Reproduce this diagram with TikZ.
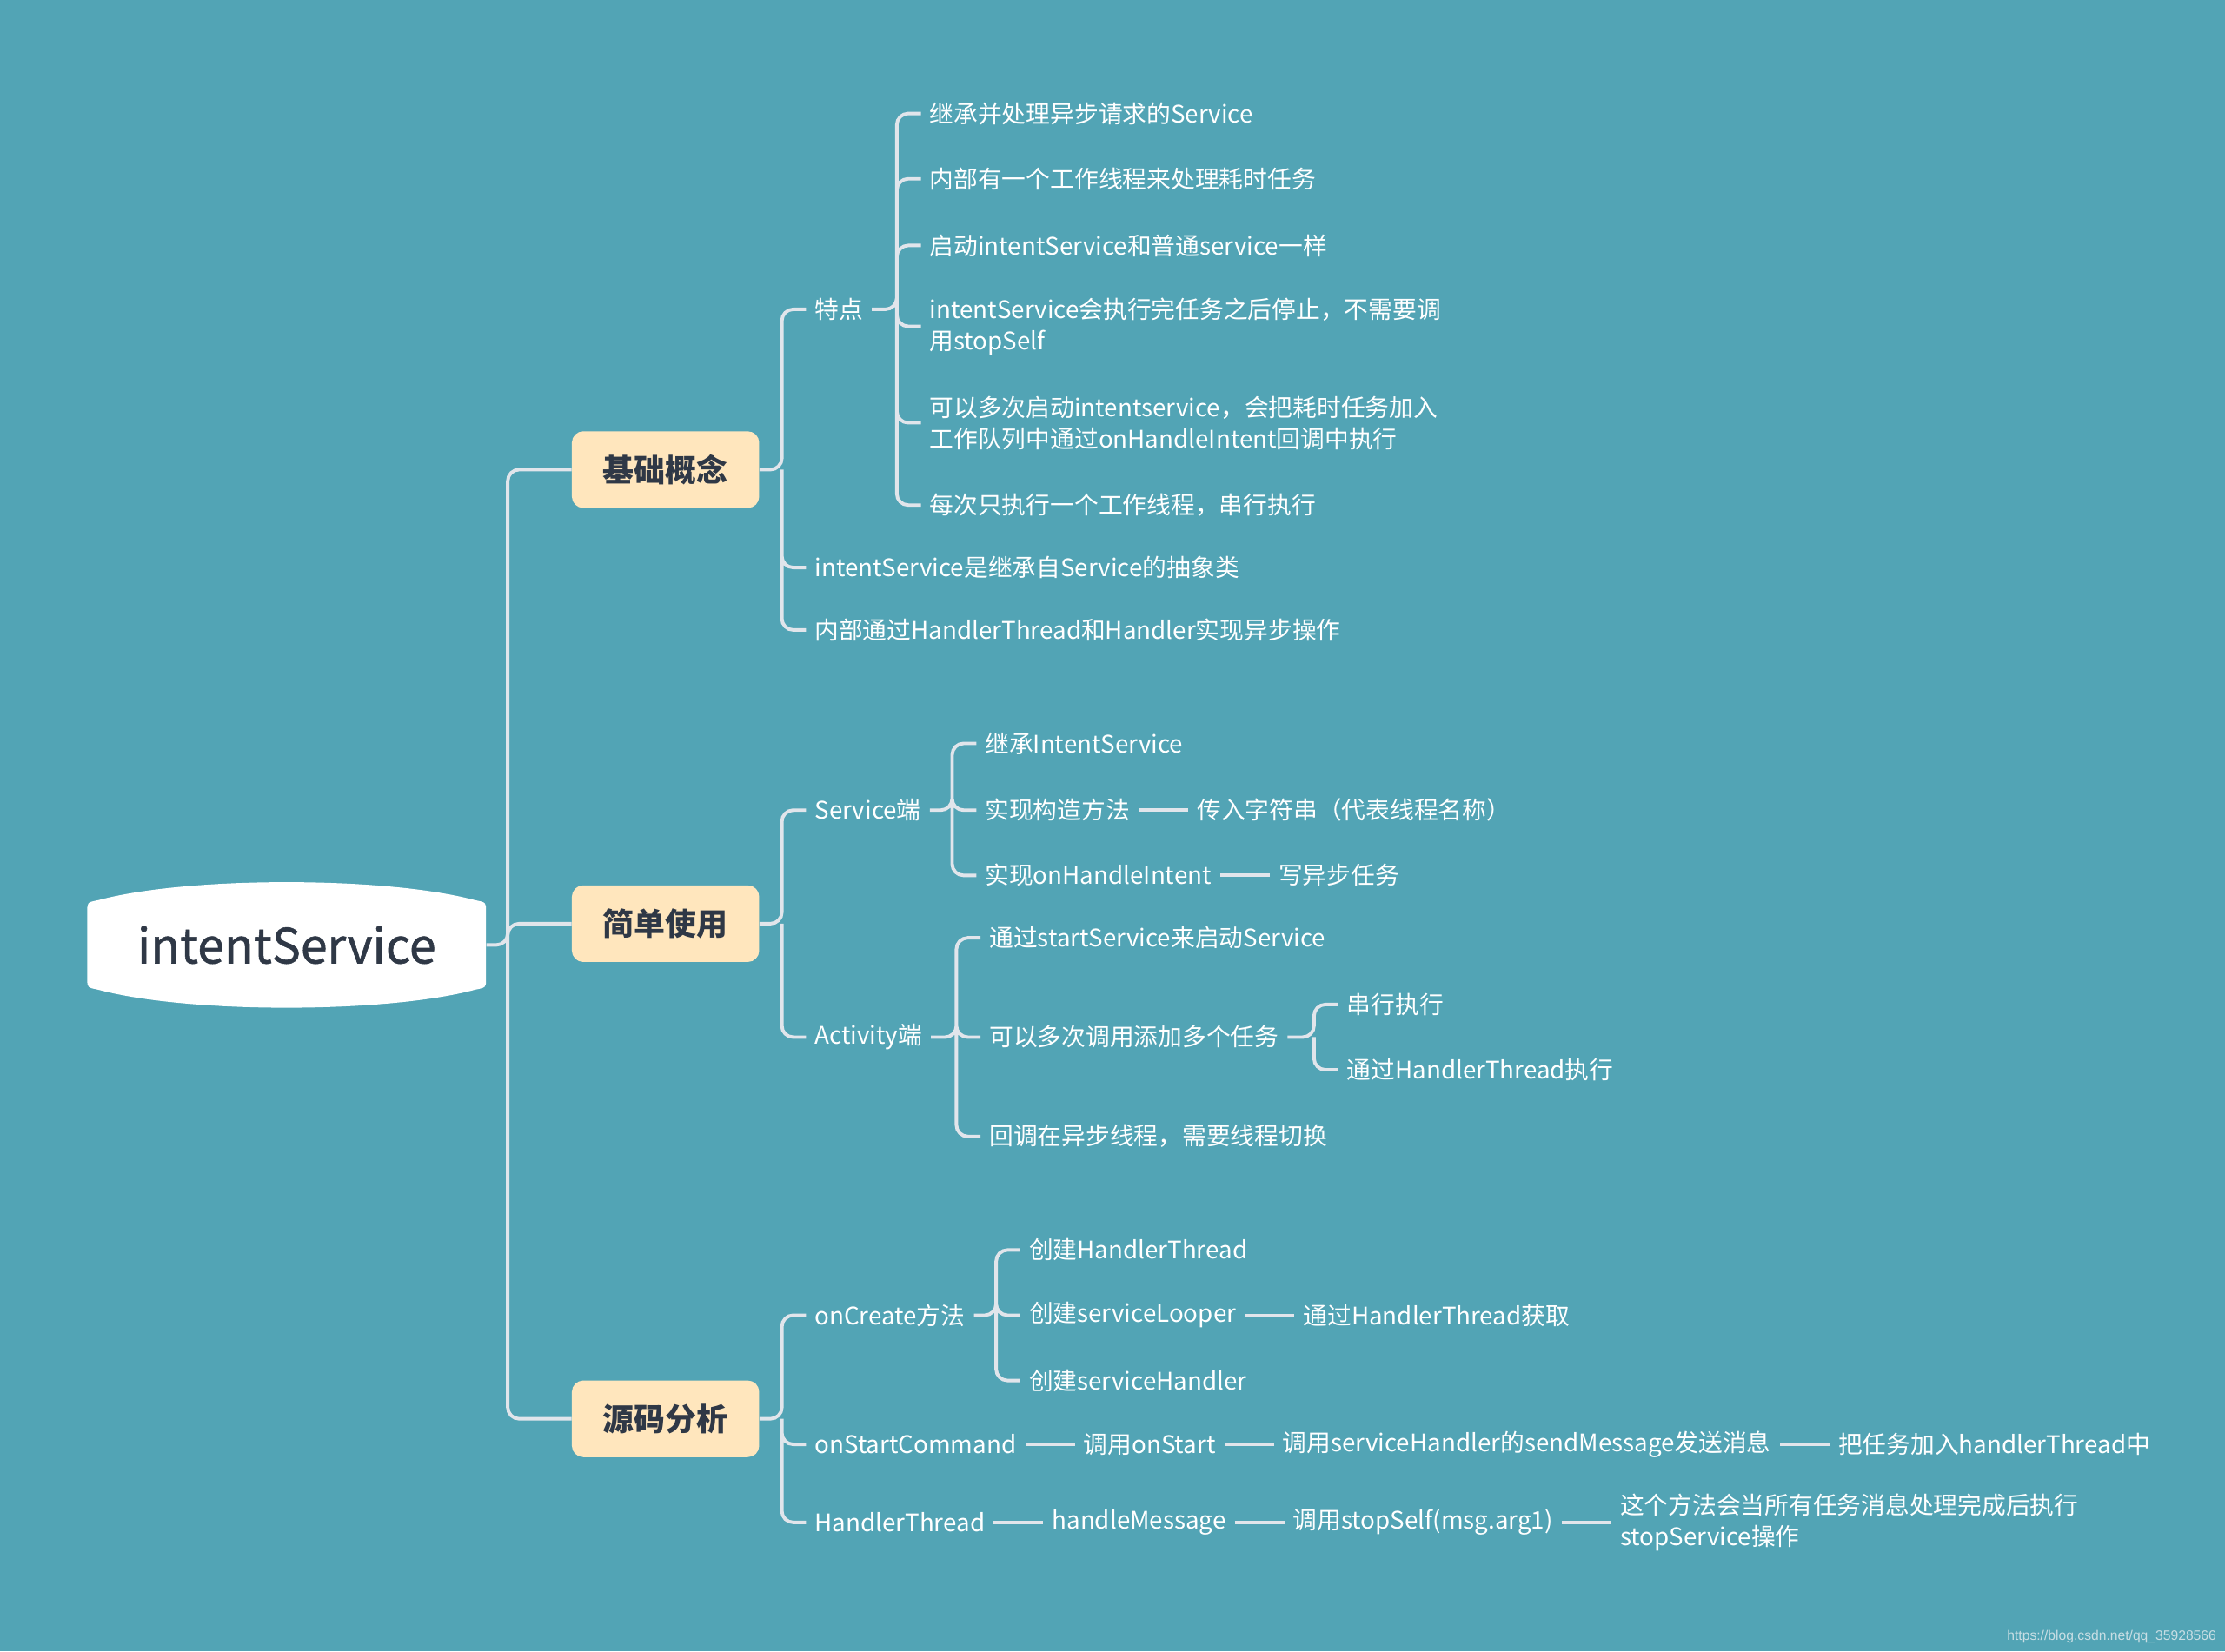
\documentclass[tikz,border=0pt]{standalone}
\usepackage{fontspec}
\setmainfont{Noto Sans CJK SC}
\newfontfamily\rootfont[FakeBold=1]{Noto Sans CJK SC}
\newfontfamily\wmfont{Liberation Sans}
\usepackage{tikz}
\usetikzlibrary{positioning,backgrounds}
\definecolor{bgteal}{RGB}{82,164,181}
\definecolor{peach}{RGB}{255,230,189}
\definecolor{linegray}{RGB}{225,229,235}
\definecolor{inkdark}{RGB}{47,56,70}
\definecolor{wmgray}{RGB}{200,222,228}

\begin{document}
\begin{tikzpicture}[
    x=1pt, y=-1pt,
    font=\fontsize{17}{22}\selectfont,
    node distance=35pt,
    leaf/.style={anchor=west, text=white, align=left, inner xsep=6pt, inner ysep=2pt},
    nextleaf/.style={text=white, align=left, inner xsep=6pt, inner ysep=2pt},
    topic/.style={fill=peach, rounded corners=8pt, minimum width=132pt, minimum height=54pt, font=\fontsize{22}{26}\selectfont\bfseries, text=inkdark},
    rootnode/.style={minimum width=281pt, minimum height=63pt, font=\rootfont\fontsize{34}{40}\selectfont, text=inkdark},
    conn/.style={draw=linegray, line width=2.4pt, rounded corners=8pt}
]
\useasboundingbox (0,0) rectangle (1568,1164);

\node[rootnode] (root) at (202,666) {intentService};
\node[topic] (basics) at (469,331) {基础概念};
\node[topic] (usage) at (469,651) {简单使用};
\node[topic] (source) at (469,1000) {源码分析};

% 基础概念
\node[leaf] (traits) at (568,218) {特点};
\node[leaf] (trait1) at (649,80) {继承并处理异步请求的Service};
\node[leaf] (trait2) at (649,126) {内部有一个工作线程来处理耗时任务};
\node[leaf] (trait3) at (649,173) {启动intentService和普通service一样};
\node[leaf] (trait4) at (649,230) {intentService会执行完任务之后停止，不需要调\\用stopSelf};
\node[leaf] (trait5) at (649,298) {可以多次启动intentservice，会把耗时任务加入\\工作队列中通过onHandleIntent回调中执行};
\node[leaf] (trait6) at (649,356) {每次只执行一个工作线程，串行执行};
\node[leaf] (abstract) at (568,400) {intentService是继承自Service的抽象类};
\node[leaf] (handlerop) at (568,444) {内部通过HandlerThread和Handler实现异步操作};

% 简单使用
\node[leaf] (svcside) at (568,571) {Service端};
\node[leaf] (svcext) at (688,524) {继承IntentService};
\node[leaf] (svcctor) at (688,571) {实现构造方法};
\node[nextleaf, right=of svcctor] (svcname) {传入字符串（代表线程名称）};
\node[leaf] (svcimpl) at (688,617) {实现onHandleIntent};
\node[nextleaf, right=of svcimpl] (svcwrite) {写异步任务};
\node[leaf] (actside) at (568,731) {Activity端};
\node[leaf] (actstart) at (691,661) {通过startService来启动Service};
\node[leaf] (actmulti) at (691,731) {可以多次调用添加多个任务};
\node[leaf] (actserial) at (943,708) {串行执行};
\node[leaf] (actthread) at (943,754) {通过HandlerThread执行};
\node[leaf] (actswitch) at (691,801) {回调在异步线程，需要线程切换};

% 源码分析
\node[leaf] (oncreate) at (568,927) {onCreate方法};
\node[leaf] (mkthread) at (719,881) {创建HandlerThread};
\node[leaf] (mklooper) at (719,927) {创建serviceLooper};
\node[nextleaf, right=of mklooper] (looperget) {通过HandlerThread获取};
\node[leaf] (mkhandler) at (719,973) {创建serviceHandler};
\node[leaf] (onstart) at (568,1018) {onStartCommand};
\node[nextleaf, right=of onstart] (callstart) {调用onStart};
\node[nextleaf, right=of callstart] (sendmsg) {调用serviceHandler的sendMessage发送消息};
\node[nextleaf, right=of sendmsg] (addtask) {把任务加入handlerThread中};
\node[leaf] (hthread) at (568,1073) {HandlerThread};
\node[nextleaf, right=of hthread] (handlemsg) {handleMessage};
\node[nextleaf, right=of handlemsg] (stopself) {调用stopSelf(msg.arg1)};
\node[nextleaf, right=of stopself] (stopnote) {这个方法会当所有任务消息处理完成后执行\\stopService操作};

\node[anchor=south east, inner sep=0pt, font=\wmfont\fontsize{9.6}{11}\selectfont, text=wmgray] (mark) at (1562,1158) {https://blog.csdn.net/qq\_35928566};

% bracket positions
\coordinate (b0) at ([xshift=-45pt]basics.west);
\coordinate (b1) at ([xshift=-17pt]traits.west);
\coordinate (b2) at ([xshift=-17pt]trait1.west);
\coordinate (b3) at ([xshift=-17pt]svcside.west);
\coordinate (b4) at ([xshift=-17pt]svcext.west);
\coordinate (b5) at ([xshift=-17pt]actstart.west);
\coordinate (b6) at ([xshift=-17pt]actserial.west);
\coordinate (b7) at ([xshift=-17pt]mkthread.west);

\draw[conn] (root.east) -- (root.east -| b0) |- (basics.west)
    (root.east -| b0) |- (usage.west) (root.east -| b0) |- (source.west);
\draw[conn] (basics.east) -- (basics.east -| b1) |- (traits.west)
    (basics.east -| b1) |- (abstract.west) (basics.east -| b1) |- (handlerop.west);
\draw[conn] (traits.east) -- (traits.east -| b2) |- (trait1.west)
    (traits.east -| b2) |- (trait2.west) (traits.east -| b2) |- (trait3.west)
    (traits.east -| b2) |- (trait4.west) (traits.east -| b2) |- (trait5.west)
    (traits.east -| b2) |- (trait6.west);
\draw[conn] (usage.east) -- (usage.east -| b3) |- (svcside.west)
    (usage.east -| b3) |- (actside.west);
\draw[conn] (svcside.east) -- (svcside.east -| b4) |- (svcext.west)
    (svcside.east -| b4) |- (svcctor.west) (svcside.east -| b4) |- (svcimpl.west);
\draw[conn] (svcctor) -- (svcname);
\draw[conn] (svcimpl) -- (svcwrite);
\draw[conn] (actside.east) -- (actside.east -| b5) |- (actstart.west)
    (actside.east -| b5) |- (actmulti.west) (actside.east -| b5) |- (actswitch.west);
\draw[conn] (actmulti.east) -- (actmulti.east -| b6) |- (actserial.west)
    (actmulti.east -| b6) |- (actthread.west);
\draw[conn] (source.east) -- (source.east -| b3) |- (oncreate.west)
    (source.east -| b3) |- (onstart.west) (source.east -| b3) |- (hthread.west);
\draw[conn] (oncreate.east) -- (oncreate.east -| b7) |- (mkthread.west)
    (oncreate.east -| b7) |- (mklooper.west) (oncreate.east -| b7) |- (mkhandler.west);
\draw[conn] (mklooper) -- (looperget);
\draw[conn] (onstart) -- (callstart);
\draw[conn] (callstart) -- (sendmsg);
\draw[conn] (sendmsg) -- (addtask);
\draw[conn] (hthread) -- (handlemsg);
\draw[conn] (handlemsg) -- (stopself);
\draw[conn] (stopself) -- (stopnote);

\begin{scope}[on background layer]
\fill[bgteal] (0,0) rectangle (1568,1164);
\fill[white, shift={(root.center)}] (-133,-31.5) .. controls (-70,-48.5) and (70,-48.5) .. (133,-31.5)
    .. controls (140.5,-30) .. (140.5,-24) -- (140.5,24) .. controls (140.5,30) .. (133,31.5)
    .. controls (70,48.5) and (-70,48.5) .. (-133,31.5) .. controls (-140.5,30) .. (-140.5,24)
    -- (-140.5,-24) .. controls (-140.5,-30) .. (-133,-31.5) -- cycle;
\end{scope}
\end{tikzpicture}
\end{document}
